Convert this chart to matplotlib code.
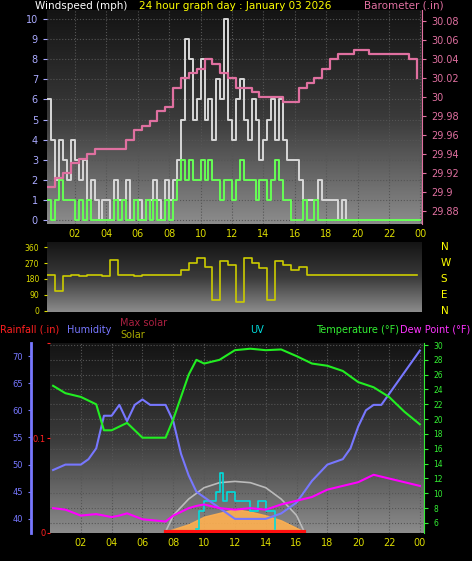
import numpy as np
import matplotlib
matplotlib.use("Agg")
import matplotlib.pyplot as plt
from matplotlib.colors import LinearSegmentedColormap

# ---------------- data ----------------
wind_t = np.arange(0.25, 24.01, 0.25)
gust = [6,4,2,4,3,2,4,3, 2,3,1,2,1,0,1,1, 0,2,1,1,2,0,1,1, 0,1,1,2,1,0,2,1,
        2,3,5,9,8,5,6,8, 5,6,4,7,6,10,5,4, 6,7,5,4,6,5,3,4, 5,6,4,6,4,3,3,3,
        2,1,1,1,1,2,1,1, 1,1,0,1,0,0,0,0] + [0]*16
speed = [1,0,1,2,1,1,1,0, 1,0,1,0,0,0,0,0, 0,1,0,1,0,0,1,0, 0,1,0,1,0,0,1,0,
         1,2,3,2,3,2,2,3, 2,3,2,2,1,2,2,1, 2,3,2,2,2,1,2,2, 1,2,3,2,1,1,0,0,
         0,1,0,0,1,0,0,0] + [0]*24
half_t = np.arange(0.25, 24.01, 0.5)
baro = [29.905,29.915,29.92,29.93,29.935,29.94,29.945,29.945,29.945,29.945,
        29.955,29.965,29.97,29.975,29.985,29.99,30.01,30.02,30.025,30.03,
        30.04,30.035,30.025,30.02,30.01,30.01,30.005,30.0,30.0,30.0,
        29.995,29.995,30.01,30.015,30.02,30.03,30.04,30.045,30.045,30.05,
        30.05,30.045,30.045,30.045,30.045,30.045,30.04,30.02]
wdir = [200,110,195,200,195,200,200,195,290,200,200,195,200,200,200,200,
        200,230,270,300,250,60,280,260,50,300,270,240,60,280,260,230,
        250,200,200,200,200,200,200,200,200,200,200,200,200,200,200,200]
hum_t = [0.2,1,1.5,2,2.5,3,3.5,4,4.5,5,5.5,6,6.5,7,7.5,8,8.5,9,9.5,10,11,12,13,14,15,16,17,18,19,19.5,20,20.5,21,21.5,22,23,24]
humidity = [49,50,50,50,51,53,59,59,61,58,61,62,61,61,61,58,52,48,45,44,42,40,40,40,41,43,47,50,51,53,57,60,61,61,63,67,71]
temp_t = [0.2,1,2,3,3.5,4,4.5,5,6,7,7.5,8,8.5,9,9.5,10,11,12,13,14,15,16,17,18,19,20,21,22,23,24]
temperature = [24.5,23.5,23,22,18.5,18.5,19,19.5,17.5,17.5,17.5,20,23,26,28,27.5,28,29.3,29.5,29.3,29.4,28.5,27.5,27.2,26.5,25,24.3,23,21,19.3]
dewpoint = [8,7.8,7,7.2,7,6.8,7,7.3,6.5,6.3,6.2,7,7.5,8,8.3,8.5,8,7.8,8,7.8,8.5,9,9.5,10.5,11,11.5,12.5,12,11.5,11]
sol_t = [7.5,8,9,10,11,12,13,14,15,16,16.5]
maxsolar = [0,130,260,350,390,400,390,350,260,130,0]
solar = [0,20,60,120,150,180,160,130,90,30,0]
uv_t = [9.5,9.7,10,10.5,10.8,11,11.2,11.5,12,12.5,13,13.5,14,14.5,14.6]
uv = [0,1,1.5,1.5,2,3,1.5,2,1.5,1.5,1,1.5,1,1,0]
hours = [2,4,6,8,10,12,14,16,18,20,22,24]
hour_labels = ["02","04","06","08","10","12","14","16","18","20","22","00"]

W, H = 472, 561
fig = plt.figure(figsize=(W/100, H/100), dpi=100, facecolor="black")
def rect(l, t, r, b):
    return [l/W, 1-b/H, (r-l)/W, (b-t)/H]
grad = LinearSegmentedColormap.from_list("g", ["#141414", "#3a3a3a", "#8c8c8c"])
def background(ax):
    ax.set_facecolor("black")
    ax.imshow(np.linspace(0, 1, 256).reshape(-1, 1), cmap=grad, aspect="auto",
              extent=[0, 1, 0, 1], transform=ax.transAxes, zorder=0)
    ax.grid(True, color="#555555", linestyle=":", linewidth=0.8, zorder=1)
    for s in ax.spines.values():
        s.set_visible(False)
fs = 7

# ---------------- top panel ----------------
ax1 = fig.add_axes(rect(47, 10, 422, 224))
background(ax1)
ax1.set_xlim(0.22, 24.1)
ax1.set_ylim(-0.2, 10.45)
ax1.step(wind_t, gust, where="post", color="#d8d8d8", lw=1.4, zorder=3)
ax1.step(wind_t, speed, where="post", color="#66ff55", lw=1.4, zorder=4)
ax1.set_yticks(range(0, 11))
ax1.set_xticks(hours)
ax1.set_xticklabels(hour_labels)
ax1.tick_params(axis="x", colors="#dddd00", labelsize=fs, length=0)
ax1.tick_params(axis="y", colors="#aaaaff", labelsize=fs, length=3)
ax1b = ax1.twinx()
ax1b.set_ylim(29.8663, 30.0916)
ax1b.step(half_t, baro, where="post", color="#e070a0", lw=1.6, zorder=5)
ax1b.set_yticks([29.88,29.90,29.92,29.94,29.96,29.98,30.0,30.02,30.04,30.06,30.08])
ax1b.set_yticklabels(["29.88","29.9","29.92","29.94","29.96","29.98","30","30.02","30.04","30.06","30.08"])
ax1b.tick_params(axis="y", colors="#e070a0", labelsize=fs, length=3)
for s in ax1b.spines.values():
    s.set_visible(False)
ax1b.spines["right"].set_visible(True)
ax1b.spines["right"].set_color("#e070a0")
ax1.text(35/W, 1-6/H, "Windspeed (mph)", color="white", fontsize=7.5, transform=fig.transFigure, va="center")
ax1.text(235/W, 1-6/H, "24 hour graph day : January 03 2026", color="#ffff00", fontsize=7.5, transform=fig.transFigure, va="center", ha="center")
ax1.text(444/W, 1-6/H, "Barometer (.in)", color="#e070a0", fontsize=7.5, transform=fig.transFigure, va="center", ha="right")

# ---------------- middle panel ----------------
ax2 = fig.add_axes(rect(47, 242, 422, 312))
background(ax2)
ax2.grid(False)
ax2.set_xlim(0.22, 24.1)
ax2.set_ylim(-8, 390)
ax2.step(half_t, wdir, where="post", color="#cccc00", lw=1.2, zorder=3)
ax2.set_yticks([0, 90, 180, 270, 360])
ax2.set_xticks([])
ax2.tick_params(axis="y", colors="#dddd00", labelsize=5.5, length=2)
for lab, v in zip(["N", "W", "S", "E", "N"], [360, 270, 180, 90, 0]):
    ax2.text(1.05, (v + 8) / 398, lab, color="#ffff00", fontsize=7.5, transform=ax2.transAxes, va="center", ha="left")

# ---------------- bottom panel ----------------
bg3 = fig.add_axes(rect(50, 343, 424, 533))
background(bg3)
bg3.set_xlim(0, 24.27)
bg3.set_ylim(4.65, 30.27)
bg3.set_xticks(hours)
bg3.set_yticks(range(6, 31, 2))
bg3.tick_params(labelleft=False, labelbottom=False, length=0)
bg3.set_zorder(0)

ax3 = fig.add_axes(rect(50, 343, 424, 533), sharex=bg3)
ax3.patch.set_visible(False)
ax3.set_zorder(1)
for s in ax3.spines.values():
    s.set_visible(False)
ax3.set_ylim(4.65, 30.27)

axs = ax3.twinx()
axs.set_ylim(-10, 1500)
axs.fill_between(sol_t, solar, color="#ffb050", alpha=0.9, zorder=2)
axs.plot(sol_t, maxsolar, color="#bbbbbb", lw=1.2, zorder=3)
axs.plot([7.5, 16.5], [0, 0], color="#ff1010", lw=3, zorder=3)
axs.axis("off")
axu = ax3.twinx()
axu.set_ylim(-0.2, 10)
axu.step(uv_t, uv, where="post", color="#00dddd", lw=1.2)
axu.axis("off")

axh = ax3.twinx()
axh.set_ylim(37.4, 72.4)
axh.plot(hum_t, humidity, color="#7777ff", lw=1.5)
axh.yaxis.tick_left()
for s in axh.spines.values():
    s.set_visible(False)
axh.spines["left"].set_visible(True)
axh.spines["left"].set_position(("outward", 14))
axh.spines["left"].set_color("#7777ff")
axh.spines["left"].set_linewidth(2)
axh.set_yticks([40, 45, 50, 55, 60, 65, 70])
axh.tick_params(axis="y", colors="#7777ff", labelsize=6, length=2)

axr = ax3.twinx()
axr.set_ylim(0, 0.2)
axr.yaxis.tick_left()
for s in axr.spines.values():
    s.set_visible(False)
axr.set_yticks([0, 0.1, 0.2])
axr.set_yticklabels(["0", "0.1", ""])
axr.tick_params(axis="y", colors="#ff2020", labelsize=6, length=2, pad=1)

axt = ax3.twinx()
axt.set_ylim(4.65, 30.27)
axt.plot(temp_t, temperature, color="#22ee22", lw=1.5, zorder=6)
axt.plot(temp_t, dewpoint, color="#ff00ff", lw=1.5, zorder=6)
axt.yaxis.tick_right()
axt.set_yticks(range(6, 31, 2))
axt.tick_params(axis="y", colors="#33ee33", labelsize=5.5, length=3)
for s in axt.spines.values():
    s.set_visible(False)
axt.spines["right"].set_visible(True)
axt.spines["right"].set_color("#33ee33")

ax3.set_yticks([])
ax3.set_xticks(hours)
ax3.set_xticklabels(hour_labels)
ax3.tick_params(axis="x", colors="#dddd00", labelsize=fs, length=0)

def ft(x, y, s, c, ha="left"):
    fig.text(x/W, 1-y/H, s, color=c, fontsize=7, va="center", ha=ha)
ft(0, 330, "Rainfall (.in)", "#ff2020")
ft(67, 330, "Humidity", "#7777ff")
ft(120, 323, "Max solar", "#aa2040")
ft(120, 335, "Solar", "#aaaa00")
ft(257, 330, "UV", "#00dddd", ha="center")
ft(316, 330, "Temperature (°F)", "#33ee33")
ft(470, 330, "Dew Point (°F)", "#ff33ff", ha="right")

fig.savefig("out.png", dpi=100, facecolor="black")
